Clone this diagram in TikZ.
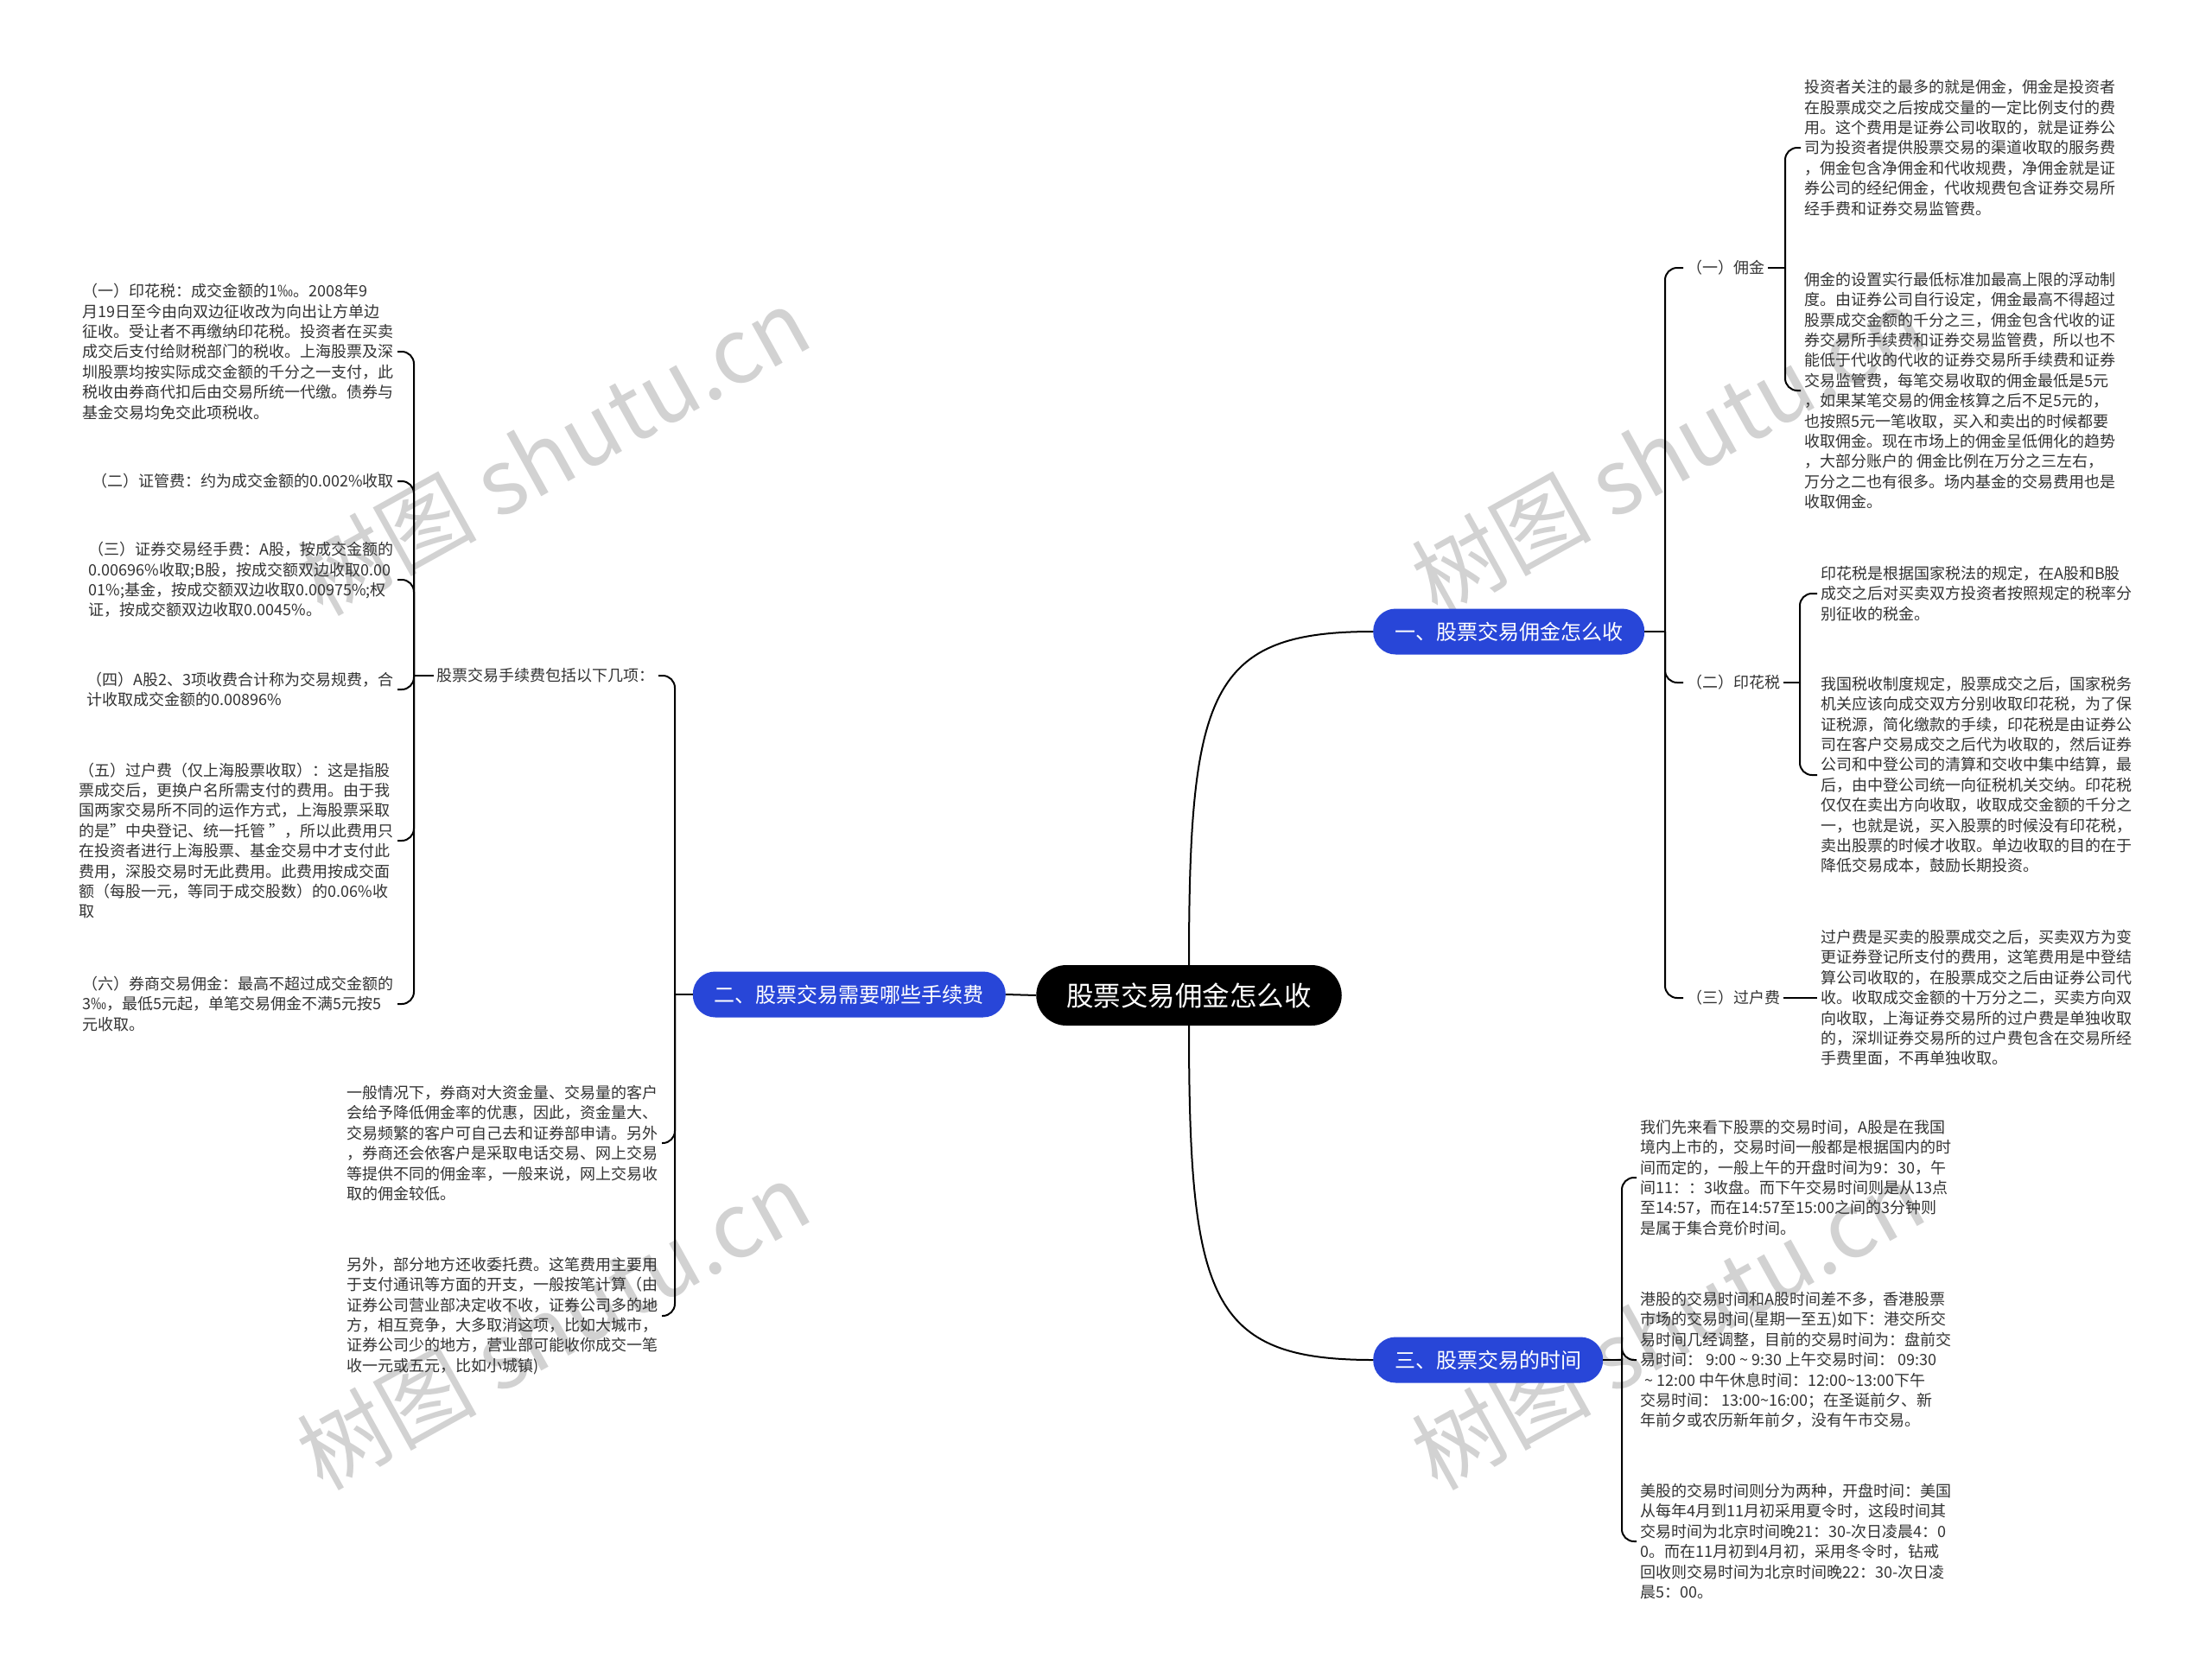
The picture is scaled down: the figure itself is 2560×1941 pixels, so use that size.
\documentclass[tikz,border=0pt]{standalone}
\usepackage{fontspec}
\setmainfont{Noto Sans CJK SC}
\definecolor{txt}{HTML}{333333}
\definecolor{branchblue}{HTML}{2846D8}
\definecolor{wm}{HTML}{D2D2D2}
\tikzset{
 para/.style={font=\fontsize{18}{23.4}\selectfont, text=txt, align=left, inner sep=4pt},
 lbl/.style={font=\fontsize{18}{23.4}\selectfont, text=txt, inner sep=4pt},
 branch/.style={fill=branchblue, text=white, font=\fontsize{24}{28}\selectfont, rounded corners=26pt, minimum height=53pt, inner xsep=25pt, inner ysep=0pt},
 rootnode/.style={fill=black, text=white, font=\fontsize{31.5}{36}\selectfont, rounded corners=35pt, minimum height=70pt, inner xsep=35pt, inner ysep=0pt},
 link/.style={draw=black, line width=2pt},
 brk/.style={link, rounded corners=14pt},
 wmark/.style={text=wm, font=\fontsize{104}{114}\selectfont, rotate=29, inner sep=0pt},
}
\begin{document}
\begin{tikzpicture}[x=1pt,y=-1pt]
\useasboundingbox[fill=white] (0,0) rectangle (2560,1941);

% watermarks
\node[wmark] (wm1) at (640,522) {树图 shutu.cn};
\node[wmark] (wm2) at (1930,522) {树图 shutu.cn};
\node[wmark] (wm3) at (640,1534) {树图 shutu.cn};
\node[wmark] (wm4) at (1930,1534) {树图 shutu.cn};

% root and branches
\node[rootnode] (root) at (1376,1152) {股票交易佣金怎么收};
\node[branch, anchor=west] (b1) at (1589,731) {一、股票交易佣金怎么收};
\node[branch, anchor=east] (b2) at (1164,1151) {二、股票交易需要哪些手续费};
\node[branch, anchor=west] (b3) at (1589,1574) {三、股票交易的时间};

% branch 1 children
\node[lbl, anchor=west] (l1) at (1948,310) {（一）佣金};
\node[lbl, anchor=west] (l2) at (1948,790) {（二）印花税};
\node[lbl, anchor=west] (l3) at (1948,1155) {（三）过户费};

\node[para, anchor=west] (p11) at (2084,171) {投资者关注的最多的就是佣金，佣金是投资者\\在股票成交之后按成交量的一定比例支付的费\\用。这个费用是证券公司收取的，就是证券公\\司为投资者提供股票交易的渠道收取的服务费\\，佣金包含净佣金和代收规费，净佣金就是证\\券公司的经纪佣金，代收规费包含证券交易所\\经手费和证券交易监管费。};
\node[para, anchor=west] (p12) at (2084,452) {佣金的设置实行最低标准加最高上限的浮动制\\度。由证券公司自行设定，佣金最高不得超过\\股票成交金额的千分之三，佣金包含代收的证\\券交易所手续费和证券交易监管费，所以也不\\能低于代收的代收的证券交易所手续费和证券\\交易监管费，每笔交易收取的佣金最低是5元\\，如果某笔交易的佣金核算之后不足5元的，\\也按照5元一笔收取，买入和卖出的时候都要\\收取佣金。现在市场上的佣金呈低佣化的趋势\\，大部分账户的 佣金比例在万分之三左右，\\万分之二也有很多。场内基金的交易费用也是\\收取佣金。};
\node[para, anchor=west] (p21) at (2103,687) {印花税是根据国家税法的规定，在A股和B股\\成交之后对买卖双方投资者按照规定的税率分\\别征收的税金。};
\node[para, anchor=west] (p22) at (2103,897) {我国税收制度规定，股票成交之后，国家税务\\机关应该向成交双方分别收取印花税，为了保\\证税源，简化缴款的手续，印花税是由证券公\\司在客户交易成交之后代为收取的，然后证券\\公司和中登公司的清算和交收中集中结算，最\\后，由中登公司统一向征税机关交纳。印花税\\仅仅在卖出方向收取，收取成交金额的千分之\\一，也就是说，买入股票的时候没有印花税，\\卖出股票的时候才收取。单边收取的目的在于\\降低交易成本，鼓励长期投资。};
\node[para, anchor=west] (p31) at (2103,1155) {过户费是买卖的股票成交之后，买卖双方为变\\更证券登记所支付的费用，这笔费用是中登结\\算公司收取的，在股票成交之后由证券公司代\\收。收取成交金额的十万分之二，买卖方向双\\向收取，上海证券交易所的过户费是单独收取\\的，深圳证券交易所的过户费包含在交易所经\\手费里面，不再单独收取。};

% branch 3 children
\node[para, anchor=west] (t1) at (1894,1363) {我们先来看下股票的交易时间，A股是在我国\\境内上市的，交易时间一般都是根据国内的时\\间而定的，一般上午的开盘时间为9：30，午\\间11：：3收盘。而下午交易时间则是从13点\\至14:57，而在14:57至15:00之间的3分钟则\\是属于集合竞价时间。};
\node[para, anchor=west] (t2) at (1894,1574) {港股的交易时间和A股时间差不多，香港股票\\市场的交易时间(星期一至五)如下：港交所交\\易时间几经调整，目前的交易时间为：盘前交\\易时间： 9:00 \textasciitilde{} 9:30 上午交易时间： 09:30\\\hspace*{5pt}\textasciitilde{} 12:00 中午休息时间：12:00\textasciitilde{}13:00下午\\交易时间： 13:00\textasciitilde{}16:00；在圣诞前夕、新\\年前夕或农历新年前夕，没有午市交易。};
\node[para, anchor=west] (t3) at (1894,1784) {美股的交易时间则分为两种，开盘时间：美国\\从每年4月到11月初采用夏令时，这段时间其\\交易时间为北京时间晚21：30-次日凌晨4：0\\0。而在11月初到4月初，采用冬令时，钻戒\\回收则交易时间为北京时间晚22：30-次日凌\\晨5：00。};

% branch 2 children
\node[lbl, anchor=east] (fl) at (762,782) {股票交易手续费包括以下几项：};
\node[para, anchor=east] (m1) at (766,1323) {一般情况下，券商对大资金量、交易量的客户\\会给予降低佣金率的优惠，因此，资金量大、\\交易频繁的客户可自己去和证券部申请。另外\\，券商还会依客户是采取电话交易、网上交易\\等提供不同的佣金率，一般来说，网上交易收\\取的佣金较低。};
\node[para, anchor=east] (m2) at (766,1523) {另外，部分地方还收委托费。这笔费用主要用\\于支付通讯等方面的开支，一般按笔计算（由\\证券公司营业部决定收不收，证券公司多的地\\方，相互竞争，大多取消这项，比如大城市，\\证券公司少的地方，营业部可能收你成交一笔\\收一元或五元，比如小城镇)};

\node[para, anchor=east] (f1) at (460,407) {（一）印花税：成交金额的1‰。2008年9\\月19日至今由向双边征收改为向出让方单边\\征收。受让者不再缴纳印花税。投资者在买卖\\成交后支付给财税部门的税收。上海股票及深\\圳股票均按实际成交金额的千分之一支付，此\\税收由券商代扣后由交易所统一代缴。债券与\\基金交易均免交此项税收。};
\node[para, anchor=east] (f2) at (460,557) {（二）证管费：约为成交金额的0.002\%收取};
\node[para, anchor=east] (f3) at (460,671) {（三）证券交易经手费：A股，按成交金额的\\0.00696\%收取;B股，按成交额双边收取0.00\\01\%;基金，按成交额双边收取0.00975\%;权\\证，按成交额双边收取0.0045\%。};
\node[para, anchor=east] (f4) at (460,798) {（四）A股2、3项收费合计称为交易规费，合\\计收取成交金额的0.00896\%};
\node[para, anchor=east] (f5) at (460,973) {（五）过户费（仅上海股票收取）：这是指股\\票成交后，更换户名所需支付的费用。由于我\\国两家交易所不同的运作方式，上海股票采取\\的是”中央登记、统一托管 ”，所以此费用只\\在投资者进行上海股票、基金交易中才支付此\\费用，深股交易时无此费用。此费用按成交面\\额（每股一元，等同于成交股数）的0.06\%收\\取};
\node[para, anchor=east] (f6) at (460,1162) {（六）券商交易佣金：最高不超过成交金额的\\3‰，最低5元起，单笔交易佣金不满5元按5\\元收取。};

% connectors: root to branches
\draw[link] (root.north) .. controls (1376,800) and (1400,731) .. (b1.west);
\draw[link] (root.south) .. controls (1376,1504) and (1400,1574) .. (b3.west);
\draw[link] (root.west) -- (b2.east);

% branch 1 bracket
\coordinate (j1) at (1927,731);
\draw[link] (b1.east) -- (j1);
\draw[brk] (j1) |- (l1.west);
\draw[brk] (j1) |- (l2.west);
\draw[brk] (j1) |- (l3.west);

\coordinate (j11) at (2066,310);
\draw[link] (l1.east) -- (j11);
\draw[brk] (j11) |- (p11.west);
\draw[brk] (j11) |- (p12.west);

\coordinate (j21) at (2083,790);
\draw[link] (l2.east) -- (j21);
\draw[brk] (j21) |- (p21.west);
\draw[brk] (j21) |- (p22.west);

\draw[link] (l3.east) -- (p31.west);

% branch 3 bracket
\coordinate (j3) at (1877,1574);
\draw[link] (b3.east) -- (j3);
\draw[brk] (j3) |- (t1.west);
\draw[brk] (j3) |- (t2.west);
\draw[brk] (j3) |- (t3.west);

% branch 2 bracket
\coordinate (j2) at (781,1151);
\draw[link] (b2.west) -- (j2);
\draw[brk] (j2) |- (fl.east);
\draw[brk] (j2) |- (m1.east);
\draw[brk] (j2) |- (m2.east);

\coordinate (jf) at (479,782);
\draw[link] (fl.west) -- (jf);
\draw[brk] (jf) |- (f1.east);
\draw[brk] (jf) |- (f2.east);
\draw[brk] (jf) |- (f3.east);
\draw[brk] (jf) |- (f4.east);
\draw[brk] (jf) |- (f5.east);
\draw[brk] (jf) |- (f6.east);
\end{tikzpicture}
\end{document}
